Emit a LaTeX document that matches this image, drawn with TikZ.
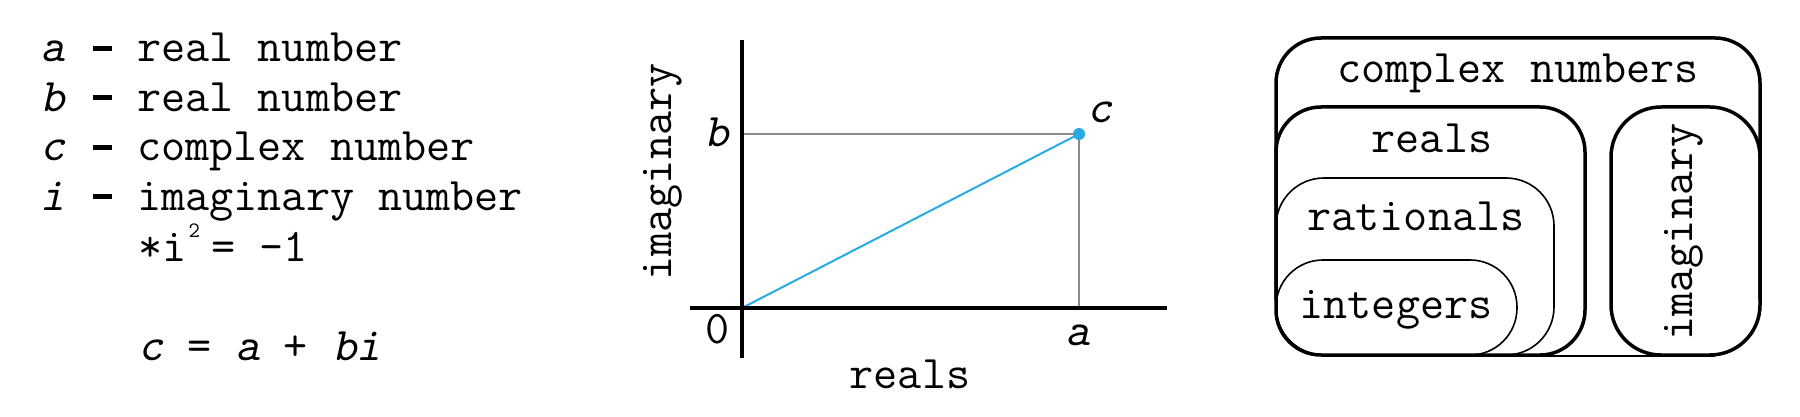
\documentclass[tikz,border=0pt]{standalone}
\usepackage{fontspec}
\newfontfamily\oblmono[FakeSlant=0.22]{lmmono10-regular.otf}
\definecolor{ptblue}{HTML}{29ABE2}
\definecolor{guidegray}{HTML}{8A8A8A}
\newcommand{\ob}[1]{{\oblmono #1}}
\newcommand{\thickdash}{\makebox[12.3pt][c]{\hspace{2pt}\rule[5.5pt]{9.5pt}{2.6pt}}}
\newcommand{\smallsup}[1]{\makebox[12.3pt][l]{\hspace{1pt}\raisebox{12pt}{\fontsize{11}{12}\selectfont #1}}}
\begin{document}
\begin{tikzpicture}[x=0.5pt,y=-0.5pt,
  every node/.style={inner sep=0pt, outer sep=0pt, font=\ttfamily\fontsize{23.4}{28}\selectfont},
  txt/.style={anchor=base west},
  lbl/.style={anchor=base},
  axisline/.style={line width=1.75pt, black},
  guideline/.style={line width=0.8pt, guidegray},
  vecline/.style={line width=1pt, ptblue},
  thickbox/.style={line width=1.75pt, black},
  thinbox/.style={line width=0.8pt, black}]
\useasboundingbox (0,0) rectangle (1800,417);
% ---------- left legend ----------
\node[txt] (l1) at (40,62) {\ob{a} \thickdash{} real number};
\node[txt] (l2) at (40,111.5) {\ob{b} \thickdash{} real number};
\node[txt] (l3) at (40,161) {\ob{c} \thickdash{} complex number};
\node[txt] (l4) at (40,210.5) {\ob{i} \thickdash{} imaginary number};
\node[txt] (l5) at (138.4,261) {*i\smallsup{2}= -1};
\node[txt] (l6) at (138.4,360) {\ob{c} = \ob{a} + \ob{bi}};
% ---------- complex plane ----------
\coordinate (O) at (742,308);
\coordinate (C) at (1079,134);
\coordinate (B) at (742,134);
\coordinate (A) at (1079,308);
\coordinate (ytop) at (742,40);
\coordinate (ybot) at (742,358);
\coordinate (xl) at (690,308);
\coordinate (xr) at (1167,308);
\draw[guideline] (B) -- (C) -- (A);
\draw[vecline] (O) -- (C);
\draw[axisline] (ybot) -- (ytop);
\draw[axisline] (xl) -- (xr);
\node[circle, fill=ptblue, minimum size=6pt] (cpt) at (C) {};
\node[lbl] (bl) at (717,147) {\ob{b}};
\node[lbl] (cl) at (1100,123) {\ob{c}};
\node[lbl] (zl) at (718,343) {0};
\node[lbl] (al) at (1078,345) {\ob{a}};
\node[lbl] (reall) at (910,388) {reals};
\node[lbl, rotate=90] (imagl) at (671,172) {imaginary};
% ---------- sets diagram ----------
\draw[thickbox, rounded corners=22.5pt] (1276,300) -- (1276,38) -- (1760,38) -- (1760,300);
\draw[line width=1pt] (1530,356) -- (1715,356);
\draw[thickbox, rounded corners=22.5pt] (1276,107) rectangle (1585,355);
\draw[thinbox, rounded corners=24pt] (1276,178) rectangle (1554,355);
\draw[thinbox, rounded corners=23.5pt] (1276,260) rectangle (1517,355);
\draw[thickbox, rounded corners=25pt] (1611,107) rectangle (1760,355);
\node[lbl] (cn) at (1518,83) {complex numbers};
\node[lbl] (rn) at (1432,153) {reals};
\node[lbl] (qn) at (1416,230) {rationals};
\node[lbl] (zn) at (1396,318) {integers};
\node[lbl, rotate=90] (in) at (1692,232) {imaginary};
\end{tikzpicture}
\end{document}
